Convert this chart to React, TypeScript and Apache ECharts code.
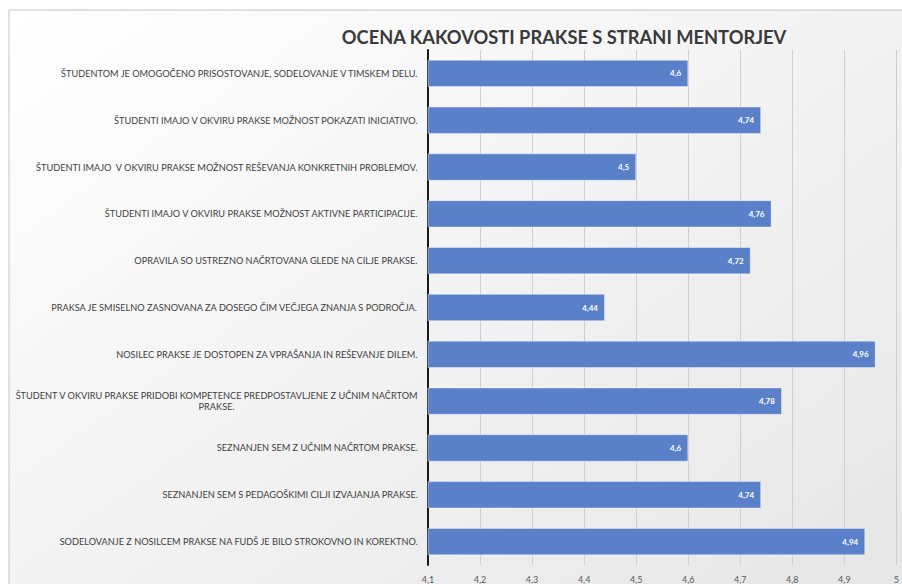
import React, { useEffect, useRef } from "react";
import * as echarts from "echarts";

const categories: string[] = [
  "ŠTUDENTOM JE OMOGOČENO PRISOSTOVANJE, SODELOVANJE V TIMSKEM DELU.",
  "ŠTUDENTI IMAJO V OKVIRU PRAKSE MOŽNOST POKAZATI INICIATIVO.",
  "ŠTUDENTI IMAJO  V OKVIRU PRAKSE MOŽNOST REŠEVANJA KONKRETNIH PROBLEMOV.",
  "ŠTUDENTI IMAJO V OKVIRU PRAKSE MOŽNOST AKTIVNE PARTICIPACIJE.",
  "OPRAVILA SO USTREZNO NAČRTOVANA GLEDE NA CILJE PRAKSE.",
  "PRAKSA JE SMISELNO ZASNOVANA ZA DOSEGO ČIM VEČJEGA ZNANJA S PODROČJA.",
  "NOSILEC PRAKSE JE DOSTOPEN ZA VPRAŠANJA IN REŠEVANJE DILEM.",
  "ŠTUDENT V OKVIRU PRAKSE PRIDOBI KOMPETENCE PREDPOSTAVLJENE Z UČNIM NAČRTOM\nPRAKSE.",
  "SEZNANJEN SEM Z UČNIM NAČRTOM PRAKSE.",
  "SEZNANJEN SEM S PEDAGOŠKIMI CILJI IZVAJANJA PRAKSE.",
  "SODELOVANJE Z NOSILCEM PRAKSE NA FUDŠ JE BILO STROKOVNO IN KOREKTNO.",
];

const values: number[] = [4.6, 4.74, 4.5, 4.76, 4.72, 4.44, 4.96, 4.78, 4.6, 4.74, 4.94];

const title = "OCENA KAKOVOSTI PRAKSE S STRANI MENTORJEV";
const axisMin = 4.1;
const axisMax = 5;
const axisStep = 0.1;

const fmt = (v: number) => String(Math.round(v * 100) / 100).replace(".", ",");

export default function App() {
  const ref = useRef<HTMLDivElement>(null);
  useEffect(() => {
    if (!ref.current) return;
    const chart = echarts.init(ref.current, undefined, { renderer: "svg" });
    chart.setOption({
      animation: false,
      backgroundColor: "#ffffff",
      graphic: [
        {
          type: "rect",
          z: -10,
          shape: { x: 9, y: 10, width: 1000, height: 700 },
          style: {
            fill: new echarts.graphic.LinearGradient(0, 0, 1, 1, [
              { offset: 0, color: "#ffffff" },
              { offset: 1, color: "#e2e2e2" },
            ]),
            stroke: "#c4c4c4",
            lineWidth: 1,
          },
        },
        {
          type: "text",
          z: 10,
          x: 564,
          y: 37,
          style: {
            text: title,
            align: "center",
            verticalAlign: "middle",
            fontFamily: "Lato",
            fontWeight: "bold",
            fontSize: 18.3,
            fill: "#3a3a3a",
          },
        },
      ],
      grid: { left: 428, right: 1, top: 50, bottom: 17, containLabel: false },
      xAxis: {
        type: "value",
        min: axisMin,
        max: axisMax,
        interval: axisStep,
        axisLine: { show: false },
        axisTick: { show: false },
        splitLine: { show: true, lineStyle: { color: "#cfcfcf", width: 1 } },
        axisLabel: {
          formatter: (v: number) => fmt(v),
          color: "#595959",
          fontFamily: "Lato",
          fontSize: 9,
          margin: 10,
        },
      },
      yAxis: {
        type: "category",
        data: categories,
        inverse: true,
        axisLine: { show: true, lineStyle: { color: "#1a1a1a", width: 2 } },
        axisTick: { show: false },
        axisLabel: {
          margin: 10,
          color: "#404040",
          fontFamily: "Lato",
          fontSize: 9.2,
          lineHeight: 11,
          formatter: (v: string) =>
            v
              .split("\n")
              .map((line) => `{c|${line}}`)
              .join("\n"),
          rich: {
            c: {
              align: "center",
              color: "#404040",
              fontFamily: "Lato",
              fontSize: 9.2,
              lineHeight: 11,
            },
          },
        },
      },
      series: [
        {
          type: "bar",
          data: values,
          barCategoryGap: "42%",
          itemStyle: {
            color: "#5a80c9",
            borderColor: "rgba(255,255,255,0.5)",
            borderWidth: 0.8,
          },
          label: {
            show: true,
            position: "insideRight",
            offset: [-2, 0],
            formatter: (p: any) => fmt(p.value),
            color: "#ffffff",
            fontFamily: "Lato",
            fontWeight: "bold",
            fontSize: 8,
          },
        },
      ],
    });
    return () => chart.dispose();
  }, []);
  return (
    <div
      ref={ref}
      style={{ position: "fixed", left: 0, top: 0, width: 902, height: 584 }}
    />
  );
}
